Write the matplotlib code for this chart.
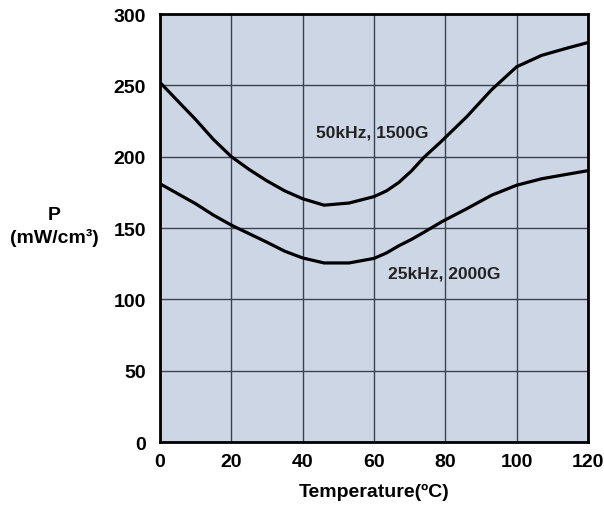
import numpy as np
import matplotlib.pyplot as plt

# temperature (C) and core loss (mW/cm3)
temp = [0, 5, 10, 15, 20, 25, 30, 35, 40, 46, 53, 60, 63.5, 67, 70.5, 74, 79, 86, 93, 100, 107, 114, 120]
p_50k = [252, 239, 226, 212, 200, 191, 183, 176, 170.5, 166, 167.5, 172, 176, 182, 190, 199.5, 211, 228, 247, 263, 271, 276, 280]
p_25k = [181, 174, 167, 159, 152, 146, 140, 133.7, 129, 125.5, 125.5, 128.7, 132.5, 137.6, 142, 147, 154.4, 163.5, 173, 180, 184.5, 187.6, 190.2]

xticks = [0, 20, 40, 60, 80, 100, 120]
yticks = [0, 50, 100, 150, 200, 250, 300]

plt.rcParams['font.family'] = ['Liberation Sans', 'DejaVu Sans']
plt.rcParams['font.weight'] = 'bold'

fig = plt.figure(figsize=(6.04, 5.06), dpi=100)
ax = fig.add_axes([160/604, 1-443/506, 428/604, 428/506])
ax.set_facecolor('#cdd6e4')

ax.plot(temp, p_50k, color='black', lw=2.3, solid_joinstyle='round')
ax.plot(temp, p_25k, color='black', lw=2.3, solid_joinstyle='round')

ax.set_xlim(0, 120)
ax.set_ylim(0, 300)
ax.set_xticks(xticks)
ax.set_yticks(yticks)
ax.grid(True, color='#3a4250', lw=1.0)
ax.set_axisbelow(True)
ax.tick_params(length=0, labelsize=14)
ax.tick_params(axis='y', pad=10)
ax.tick_params(axis='x', pad=8)
for lab in ax.get_xticklabels() + ax.get_yticklabels():
    lab.set_fontweight('bold')
for s in ax.spines.values():
    s.set_linewidth(2)
    s.set_color('black')

ax.text(43.7, 217, '50kHz, 1500G', fontsize=12.5, fontweight='bold', color='#222222', va='center')
ax.text(63.9, 118.5, '25kHz, 2000G', fontsize=12.5, fontweight='bold', color='#222222', va='center')

ax.set_xlabel('Temperature(ºC)', fontsize=14, fontweight='bold', labelpad=9)
fig.text(54/604, 1-227/506, 'P\n(mW/cm³)', fontsize=14, fontweight='bold',
         ha='center', va='center', linespacing=1.35)

fig.savefig('out.png', dpi=100)
